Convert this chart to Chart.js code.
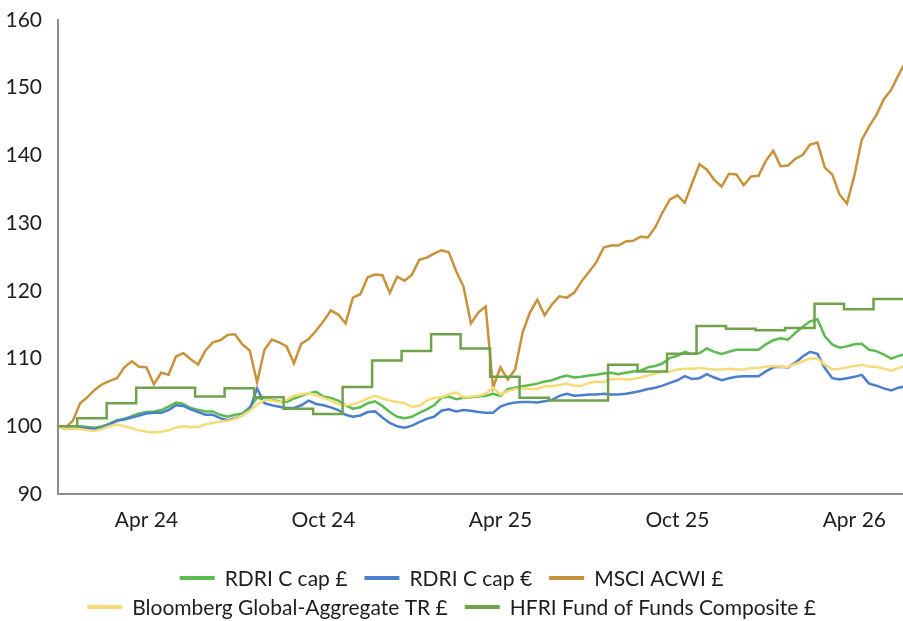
<!DOCTYPE html>
<html>
<head>
<meta charset="utf-8">
<script src="https://cdn.jsdelivr.net/npm/chart.js@4.4.1/dist/chart.umd.min.js"></script>
<style>
  html, body { margin: 0; padding: 0; background: #fff; }
  #wrap { width: 903px; height: 621px; }
</style>
</head>
<body>
<div id="wrap"><canvas id="chart"></canvas></div>
<script>
// weekly series, x in months since start of Jan 24 (one point every quarter month)
const WEEK = 0.25;

const rdriGbp = [100.0, 99.8, 100.0, 100.0, 99.9, 99.8, 100.0, 100.4, 100.9, 101.1,
  101.5, 101.9, 102.1, 102.2, 102.4, 102.9, 103.5, 103.3, 102.7, 102.4,
  102.2, 102.2, 101.7, 101.4, 101.7, 101.9, 102.8, 104.2, 104.0, 103.9,
  103.7, 103.6, 104.1, 104.5, 104.9, 105.1, 104.4, 104.2, 103.8, 103.1,
  102.6, 102.8, 103.4, 103.7, 103.0, 102.1, 101.4, 101.2, 101.4, 102.0,
  102.5, 103.1, 104.2, 104.4, 104.0, 104.2, 104.3, 104.4, 104.5, 104.8,
  104.5, 105.5, 105.7, 105.9, 106.1, 106.3, 106.6, 106.8, 107.2, 107.5,
  107.2, 107.3, 107.5, 107.6, 107.8, 107.9, 107.7, 107.9, 108.1, 108.2,
  108.7, 108.9, 109.3, 110.1, 110.4, 111.0, 110.7, 110.8, 111.5, 111.0,
  110.7, 111.0, 111.3, 111.3, 111.3, 111.3, 112.1, 112.7, 113.0, 112.8,
  113.8, 114.7, 115.5, 115.8, 113.3, 112.1, 111.6, 111.8, 112.1, 112.2,
  111.3, 111.1, 110.6, 110.0, 110.4, 110.7];

const rdriEur = [100.0, 99.6, 99.7, 99.8, 99.7, 99.6, 99.8, 100.3, 100.8, 101.0,
  101.3, 101.6, 101.9, 102.0, 102.0, 102.4, 103.1, 103.0, 102.5, 102.1,
  101.7, 101.7, 101.2, 100.9, 101.2, 101.6, 102.5, 105.6, 103.4, 103.1,
  102.9, 102.7, 102.7, 103.1, 103.8, 103.3, 103.1, 102.8, 102.4, 101.7,
  101.4, 101.6, 102.1, 102.2, 101.3, 100.5, 100.0, 99.8, 100.1, 100.6,
  101.1, 101.4, 102.3, 102.5, 102.2, 102.4, 102.3, 102.1, 102.0, 102.0,
  102.9, 103.3, 103.5, 103.6, 103.6, 103.5, 103.7, 103.9, 104.5, 104.8,
  104.5, 104.6, 104.7, 104.7, 104.8, 104.7, 104.7, 104.8, 105.0, 105.2,
  105.5, 105.7, 106.0, 106.4, 106.8, 107.4, 107.0, 107.1, 107.7, 107.2,
  106.8, 107.1, 107.3, 107.4, 107.4, 107.4, 108.1, 108.7, 108.8, 108.7,
  109.4, 110.3, 111.0, 110.7, 108.6, 107.1, 106.9, 107.1, 107.3, 107.6,
  106.3, 106.0, 105.6, 105.3, 105.7, 105.9];

const msciAcwi = [100.0, 99.8, 100.8, 103.4, 104.3, 105.4, 106.2, 106.7, 107.1, 108.7,
  109.6, 108.8, 108.7, 106.2, 107.9, 107.6, 110.3, 110.8, 109.9, 109.1,
  111.2, 112.4, 112.7, 113.5, 113.6, 112.1, 111.2, 106.5, 111.3, 112.8,
  112.4, 111.8, 109.3, 112.2, 112.9, 114.1, 115.5, 117.1, 116.5, 115.2,
  119.0, 119.5, 122.0, 122.4, 122.3, 119.7, 122.1, 121.5, 122.4, 124.6,
  124.9, 125.5, 126.0, 125.7, 122.9, 120.6, 115.2, 116.8, 117.7, 105.7,
  108.7, 106.9, 108.4, 113.8, 116.8, 118.7, 116.4, 118.0, 119.2, 119.0,
  119.7, 121.4, 122.8, 124.2, 126.4, 126.7, 126.7, 127.3, 127.4, 128.0,
  127.9, 129.4, 131.6, 133.5, 134.1, 133.0, 135.9, 138.7, 137.9, 136.4,
  135.4, 137.3, 137.2, 135.6, 136.9, 137.0, 139.2, 140.7, 138.4, 138.5,
  139.5, 140.1, 141.6, 141.9, 138.2, 137.2, 134.2, 132.9, 137.0, 142.3,
  144.3, 146.0, 148.3, 149.7, 151.9, 153.9];

const bbgAgg = [100.0, 99.6, 99.7, 99.6, 99.4, 99.3, 99.6, 100.0, 100.3, 100.0,
  99.7, 99.4, 99.2, 99.1, 99.2, 99.4, 99.8, 100.0, 99.9, 99.9,
  100.3, 100.5, 100.7, 100.8, 101.1, 101.6, 102.3, 103.2, 103.9, 103.8,
  103.6, 103.9, 104.5, 104.7, 104.9, 104.6, 104.2, 103.8, 103.3, 103.1,
  103.2, 103.6, 104.1, 104.5, 104.1, 103.8, 103.6, 103.4, 102.9, 103.0,
  103.8, 104.2, 104.3, 104.7, 105.0, 104.3, 104.4, 104.5, 104.8, 105.7,
  104.7, 105.2, 105.5, 105.6, 105.5, 105.5, 105.9, 105.9, 106.1, 106.3,
  106.0, 106.0, 106.4, 106.6, 106.5, 107.0, 107.0, 106.9, 107.0, 107.2,
  107.5, 107.8, 108.0, 108.1, 108.4, 108.5, 108.5, 108.6, 108.5, 108.4,
  108.4, 108.5, 108.4, 108.4, 108.6, 108.6, 108.8, 108.9, 108.8, 108.8,
  109.2, 109.6, 110.0, 110.0, 109.1, 108.4, 108.5, 108.7, 108.9, 109.1,
  108.8, 108.8, 108.5, 108.2, 108.6, 109.0];

// monthly fund of funds index, stepped
const hfriMonths = [0, 0.65, 1.65, 2.65, 3.65, 4.65, 5.65, 6.65, 7.65, 8.65,
  9.65, 10.65, 11.65, 12.65, 13.65, 14.65, 15.65, 16.65, 17.65, 18.65,
  19.65, 20.65, 21.65, 22.65, 23.65, 24.65, 25.65, 26.65, 27.65, 28.65];
const hfriFof = [100.0, 101.2, 103.4, 105.7, 105.7, 104.4, 105.6, 104.3, 102.6, 101.8,
  105.8, 109.7, 111.1, 113.6, 111.5, 107.3, 104.2, 103.8, 103.8, 109.1,
  108.1, 110.7, 114.8, 114.4, 114.2, 114.5, 118.1, 117.3, 118.8, 118.8];

const xTickMonths = [3, 9, 15, 21, 27];
const xTickLabels = ['Apr 24', 'Oct 24', 'Apr 25', 'Oct 25', 'Apr 26'];

// which series go on which legend row
const legendRows = [[0, 1, 2], [3, 4]];

const weekly = values => values.map((v, i) => ({ x: i * WEEK, y: v }));
const line = (label, data, color, order) => ({
  label, data, order,
  borderColor: color,
  backgroundColor: color,
  borderWidth: 2.5,
  pointRadius: 0,
  tension: 0,
});

const axisColor = '#8c8c8c';
const textColor = '#1e1e1e';
const FONT = 'Lato';

// two-row legend: Chart.js ties row spacing to item spacing, the original does not
const rowLegend = {
  id: 'rowLegend',
  afterDraw(chart) {
    const { ctx, width } = chart;
    ctx.save();
    ctx.font = `21px ${FONT}`;
    ctx.textBaseline = 'middle';
    legendRows.forEach((row, r) => {
      const y = 578 + r * 29;
      const items = row.map(i => chart.data.datasets[i]);
      const widths = items.map(d => 35 + 10 + ctx.measureText(d.label).width);
      const total = widths.reduce((a, b) => a + b, 0) + 17 * (items.length - 1);
      let x = (width - total) / 2;
      items.forEach((d, k) => {
        ctx.fillStyle = d.borderColor;
        ctx.fillRect(x, y - 2, 35, 4);
        ctx.fillStyle = textColor;
        ctx.fillText(d.label, x + 45, y + 1);
        x += widths[k] + 17;
      });
    });
    ctx.restore();
  },
};

new Chart(document.getElementById('chart'), {
  type: 'line',
  data: {
    datasets: [
      line('RDRI C cap £', weekly(rdriGbp), '#5cbb4e', 5),
      line('RDRI C cap €', weekly(rdriEur), '#4b7fcd', 4),
      line('MSCI ACWI £', weekly(msciAcwi), '#c8923a', 3),
      line('Bloomberg Global-Aggregate TR £', weekly(bbgAgg), '#f6dc78', 2),
      Object.assign(
        line('HFRI Fund of Funds Composite £', hfriMonths.map((m, i) => ({ x: m, y: hfriFof[i] })), '#70a24b', 1),
        { stepped: 'before' }
      ),
    ],
  },
  options: {
    responsive: true,
    maintainAspectRatio: false,
    animation: false,
    layout: { padding: { left: 5, right: 0, top: 20, bottom: 87 } },
    scales: {
      x: {
        type: 'linear',
        min: 0,
        max: 28.65,
        grid: { display: false, drawTicks: false },
        border: { color: axisColor, width: 2 },
        afterBuildTicks: axis => {
          axis.ticks = xTickMonths.map(v => ({ value: v }));
        },
        afterFit: axis => {
          axis.height = 40;
          axis.paddingLeft = 0;
          axis.paddingRight = 0;
        },
        ticks: {
          autoSkip: false,
          maxRotation: 0,
          padding: 14,
          color: textColor,
          font: { family: FONT, size: 21 },
          callback: v => xTickLabels[xTickMonths.indexOf(v)],
        },
      },
      y: {
        min: 90,
        max: 160,
        grid: { display: false, drawTicks: false },
        border: { color: axisColor, width: 2 },
        afterFit: axis => {
          axis.width = 53;
          axis.paddingTop = 0;
          axis.paddingBottom = 0;
        },
        ticks: {
          stepSize: 10,
          padding: 16,
          color: textColor,
          font: { family: FONT, size: 21 },
        },
      },
    },
    plugins: {
      tooltip: { enabled: false },
      legend: { display: false },
    },
  },
  plugins: [rowLegend],
});
</script>
</body>
</html>
